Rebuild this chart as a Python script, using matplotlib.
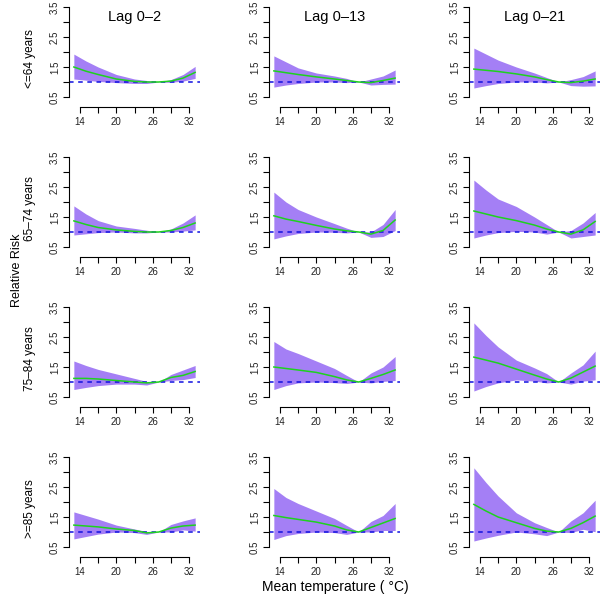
import numpy as np
import matplotlib.pyplot as plt

plt.rcParams['font.family'] = ['Liberation Sans', 'DejaVu Sans']

temp = [13, 15, 17, 20, 23, 25, 27, 29, 31, 33]

age_groups = ['<=64 years', '65\u201374 years', '75\u201384 years', '>=85 years']
lags = ['Lag 0\u20132', 'Lag 0\u201313', 'Lag 0\u201321']

# relative risk (fit, lower CI, upper CI) per age group / lag
rr_fit = [
    [[1.50, 1.36, 1.25, 1.10, 1.02, 1.00, 1.00, 1.03, 1.13, 1.32],
     [1.37, 1.31, 1.25, 1.17, 1.10, 1.05, 1.00, 0.98, 1.05, 1.13],
     [1.43, 1.39, 1.35, 1.27, 1.17, 1.08, 1.00, 0.98, 1.03, 1.10]],
    [[1.37, 1.25, 1.15, 1.07, 1.02, 1.00, 1.00, 1.05, 1.15, 1.30],
     [1.54, 1.43, 1.35, 1.22, 1.10, 1.04, 1.00, 0.93, 1.05, 1.40],
     [1.70, 1.60, 1.50, 1.38, 1.23, 1.10, 1.00, 0.93, 1.07, 1.35]],
    [[1.12, 1.12, 1.10, 1.05, 1.00, 0.97, 1.00, 1.15, 1.22, 1.35],
     [1.50, 1.45, 1.40, 1.32, 1.18, 1.07, 1.00, 1.12, 1.25, 1.40],
     [1.83, 1.73, 1.63, 1.43, 1.23, 1.10, 1.00, 1.13, 1.33, 1.53]],
    [[1.23, 1.20, 1.17, 1.10, 1.05, 0.97, 1.00, 1.13, 1.20, 1.23],
     [1.55, 1.48, 1.42, 1.33, 1.20, 1.07, 1.00, 1.15, 1.30, 1.45],
     [1.92, 1.70, 1.50, 1.31, 1.12, 1.03, 1.00, 1.12, 1.31, 1.53]],
]
rr_low = [
    [[1.10, 1.06, 1.02, 0.98, 0.95, 0.95, 1.00, 0.99, 1.03, 1.12],
     [0.83, 0.90, 0.95, 1.00, 1.00, 0.98, 1.00, 0.90, 0.92, 0.93],
     [0.80, 0.88, 0.95, 1.00, 1.00, 0.97, 1.00, 0.88, 0.86, 0.87]],
    [[0.90, 0.94, 0.98, 1.00, 0.97, 0.97, 1.00, 1.00, 1.03, 1.07],
     [0.77, 0.87, 0.95, 1.00, 0.99, 0.97, 1.00, 0.82, 0.85, 1.05],
     [0.80, 0.90, 0.98, 1.02, 1.00, 0.93, 1.00, 0.80, 0.85, 0.90]],
    [[0.75, 0.82, 0.88, 0.93, 0.93, 0.90, 1.00, 1.05, 1.08, 1.15],
     [0.75, 0.88, 0.97, 1.00, 0.98, 0.95, 1.00, 0.97, 1.02, 1.05],
     [0.70, 0.85, 0.97, 1.07, 1.03, 0.97, 1.00, 0.93, 1.03, 1.07]],
    [[0.77, 0.85, 0.93, 1.00, 0.98, 0.92, 1.00, 1.00, 1.07, 1.03],
     [0.75, 0.88, 0.95, 1.00, 0.98, 0.92, 1.00, 1.00, 1.05, 1.05],
     [0.70, 0.80, 0.89, 1.00, 0.94, 0.88, 1.00, 0.98, 1.09, 1.01]],
]
rr_up = [
    [[1.93, 1.70, 1.50, 1.25, 1.10, 1.05, 1.00, 1.08, 1.25, 1.52],
     [1.87, 1.67, 1.47, 1.30, 1.20, 1.12, 1.00, 1.10, 1.20, 1.40],
     [2.13, 1.93, 1.73, 1.50, 1.30, 1.15, 1.00, 1.08, 1.18, 1.37]],
    [[1.87, 1.60, 1.38, 1.20, 1.12, 1.06, 1.00, 1.10, 1.30, 1.57],
     [2.33, 2.00, 1.75, 1.50, 1.28, 1.13, 1.00, 1.00, 1.25, 1.75],
     [2.73, 2.40, 2.10, 1.85, 1.50, 1.25, 1.00, 1.05, 1.30, 1.65]],
    [[1.70, 1.55, 1.42, 1.27, 1.12, 1.02, 1.00, 1.25, 1.40, 1.55],
     [2.35, 2.10, 1.95, 1.70, 1.45, 1.22, 1.00, 1.30, 1.50, 1.85],
     [2.97, 2.55, 2.17, 1.73, 1.47, 1.28, 1.00, 1.30, 1.57, 2.03]],
    [[1.67, 1.55, 1.43, 1.23, 1.10, 1.02, 1.00, 1.25, 1.37, 1.47],
     [2.45, 2.15, 1.95, 1.70, 1.45, 1.22, 1.00, 1.35, 1.55, 1.95],
     [3.14, 2.65, 2.20, 1.64, 1.31, 1.15, 1.00, 1.37, 1.64, 2.06]],
]

W, H = 600, 599
fig = plt.figure(figsize=(W / 100, H / 100), dpi=100)

YLIM = (0.5 - 10 / 30, 3.6)
for r in range(4):
    top = 7 + 150 * r - 3
    for c in range(3):
        left = 69 + 200 * c
        ax = fig.add_axes([left / W, 1 - (top + 103) / H, 131 / W, 103 / H])
        ax.fill_between(temp, rr_low[r][c], rr_up[r][c], color='#a47ff5', lw=0)
        ax.axhline(1, color='#1010e0', ls=(0, (3, 3)), lw=1.1)
        ax.plot(temp, rr_fit[r][c], color='#1ed21e', lw=1.1)
        ax.set_xlim(12.2, 33.8)
        ax.set_ylim(*YLIM)
        for s in ['top', 'right']:
            ax.spines[s].set_visible(False)
        ax.spines['left'].set_bounds(0.5, 3.5)
        ax.spines['bottom'].set_bounds(14, 32)
        for s in ['left', 'bottom']:
            ax.spines[s].set_linewidth(0.8)
        ax.set_yticks(np.arange(0.5, 3.51, 0.5))
        ax.set_yticklabels(['0.5', '', '1.5', '', '2.5', '', '3.5'],
                           rotation=90, va='center')
        ax.set_xticks(range(14, 33, 3))
        ax.set_xticklabels(['14', '', '20', '', '26', '', '32'])
        ax.tick_params(length=4.5, width=0.8, labelsize=7, pad=2.5,
                       labelcolor='#222222')
        ax.tick_params(axis='y', pad=2)
        if r == 0:
            ax.text(0.5, 0.875, lags[c], transform=ax.transAxes,
                    ha='center', va='center', fontsize=10.5)
    fig.text(30 / W, 1 - (top + 55) / H, age_groups[r], rotation=90,
             ha='center', va='center', fontsize=8.5)

fig.text(17 / W, 1 - 270 / H, 'Relative Risk', rotation=90,
         ha='center', va='center', fontsize=9)
fig.text(335 / W, 1 - 587 / H, 'Mean temperature ( \u00b0C)',
         ha='center', va='center', fontsize=10)

fig.savefig('out.png', dpi=100)
